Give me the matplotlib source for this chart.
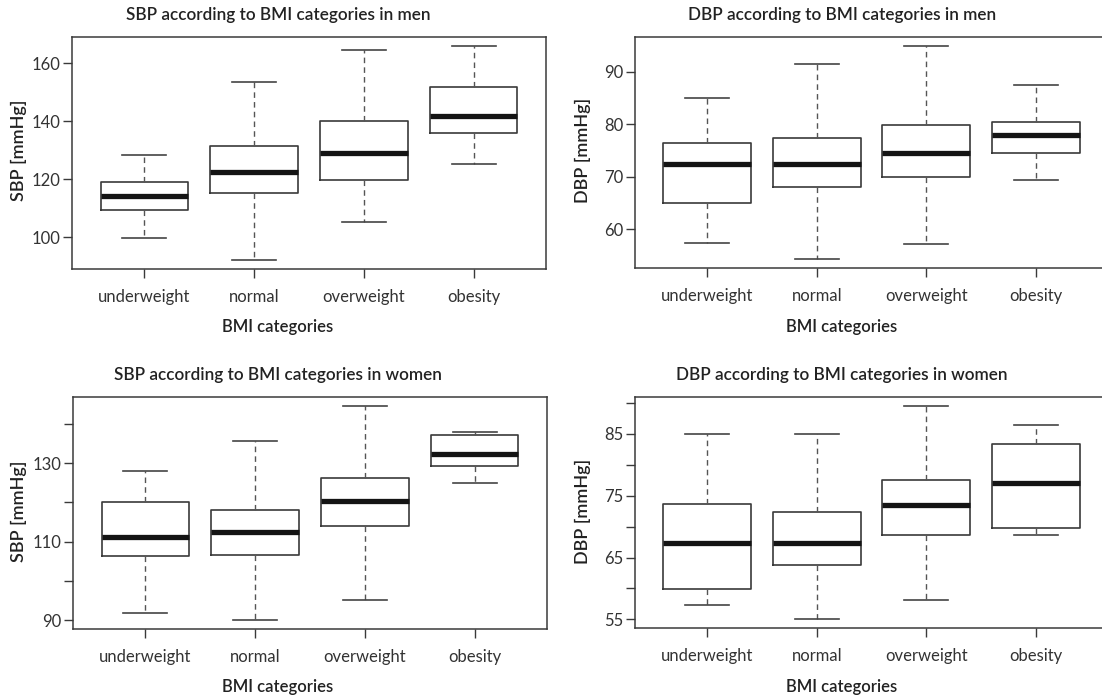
import matplotlib
matplotlib.use('Agg')
import matplotlib.pyplot as plt

plt.rcParams['font.family'] = ['Lato', 'DejaVu Sans']

categories = ['underweight', 'normal', 'overweight', 'obesity']

# SBP men
sbp_men_whislo = [99.8, 92.0, 105.1, 125.1]
sbp_men_q1 = [109.4, 115.3, 119.9, 135.9]
sbp_men_med = [114.3, 122.5, 129.1, 141.9]
sbp_men_q3 = [119.1, 131.3, 140.2, 151.8]
sbp_men_whishi = [128.5, 153.7, 164.5, 166.1]

# DBP men
dbp_men_whislo = [57.5, 54.3, 57.2, 69.5]
dbp_men_q1 = [65.05, 68.1, 70.0, 74.5]
dbp_men_med = [72.4, 72.5, 74.6, 78.0]
dbp_men_q3 = [76.4, 77.5, 79.9, 80.5]
dbp_men_whishi = [85.1, 91.4, 95.0, 87.5]

# SBP women
sbp_women_whislo = [92.0, 90.0, 95.1, 125.0]
sbp_women_q1 = [106.4, 106.7, 114.0, 129.2]
sbp_women_med = [111.2, 112.5, 120.3, 132.4]
sbp_women_q3 = [120.0, 118.1, 126.2, 137.0]
sbp_women_whishi = [128.1, 135.5, 144.6, 138.0]

# DBP women
dbp_women_whislo = [57.4, 55.0, 58.2, 68.7]
dbp_women_q1 = [59.9, 63.8, 68.7, 69.8]
dbp_women_med = [67.3, 67.4, 73.5, 77.1]
dbp_women_q3 = [73.7, 72.4, 77.6, 83.3]
dbp_women_whishi = [85.0, 85.0, 89.55, 86.4]

sbp_men_ticks = [100, 120, 140, 160]
sbp_men_ticklabels = ['100', '120', '140', '160']
dbp_men_ticks = [60, 70, 80, 90]
dbp_men_ticklabels = ['60', '70', '80', '90']
sbp_women_ticks = [90, 100, 110, 120, 130, 140]
sbp_women_ticklabels = ['90', '', '110', '', '130', '']
dbp_women_ticks = [55, 60, 65, 70, 75, 80, 85, 90]
dbp_women_ticklabels = ['55', '', '65', '', '75', '', '85', '']

titles = ['SBP according to BMI categories in men',
          'DBP according to BMI categories in men',
          'SBP according to BMI categories in women',
          'DBP according to BMI categories in women']
ylabels = ['SBP [mmHg]', 'DBP [mmHg]', 'SBP [mmHg]', 'DBP [mmHg]']
xlabel = 'BMI categories'

W, H = 1102, 700
fig = plt.figure(figsize=(W / 100, H / 100), dpi=100)

panels = [
    (sbp_men_whislo, sbp_men_q1, sbp_men_med, sbp_men_q3, sbp_men_whishi, sbp_men_ticks, sbp_men_ticklabels),
    (dbp_men_whislo, dbp_men_q1, dbp_men_med, dbp_men_q3, dbp_men_whishi, dbp_men_ticks, dbp_men_ticklabels),
    (sbp_women_whislo, sbp_women_q1, sbp_women_med, sbp_women_q3, sbp_women_whishi, sbp_women_ticks, sbp_women_ticklabels),
    (dbp_women_whislo, dbp_women_q1, dbp_women_med, dbp_women_q3, dbp_women_whishi, dbp_women_ticks, dbp_women_ticklabels),
]

# axes boxes in pixels: left, top, right, bottom
boxes = [(72, 37, 546, 269), (635, 37, 1108, 268), (73, 397, 547, 629), (635, 397, 1108, 628)]
title_pos = [(278, 15), (842, 15), (278, 375), (842, 375)]
xlabel_pos = [(278, 327), (842, 327), (278, 687), (842, 687)]
ylabel_pos = [(19, 150), (583, 150), (19, 511), (583, 511)]

txt_color = '#222222'
edge = '#3a3a3a'

for i, (lo, q1, med, q3, hi, ticks, ticklabels) in enumerate(panels):
    l, t, r, b = boxes[i]
    ax = fig.add_axes([l / W, 1 - b / H, (r - l) / W, (b - t) / H])
    stats = []
    for j in range(len(categories)):
        stats.append(dict(med=med[j], q1=q1[j], q3=q3[j], whislo=lo[j], whishi=hi[j],
                          fliers=[], label=categories[j]))
    ax.bxp(stats, positions=range(1, len(categories) + 1), widths=0.8,
           capwidths=0.4, showfliers=False,
           boxprops=dict(color=edge, linewidth=1.2),
           medianprops=dict(color='#141414', linewidth=3.8, solid_capstyle='butt'),
           whiskerprops=dict(color='#555555', linewidth=1.0, linestyle=(0, (4, 3))),
           capprops=dict(color='#444444', linewidth=1.2))
    ymin = min(lo)
    ymax = max(hi)
    rng = ymax - ymin
    ax.set_ylim(ymin - 0.04 * rng, ymax + 0.04 * rng)
    ax.set_xlim(0.34, len(categories) + 0.66)
    ax.set_yticks(ticks)
    ax.set_yticklabels(ticklabels)
    ax.set_xticks(range(1, len(categories) + 1))
    ax.set_xticklabels(categories)
    ax.tick_params(axis='both', length=6.5, width=1.0, color=edge, labelsize=12,
                   labelcolor='#333333')
    ax.tick_params(axis='y', pad=2)
    ax.tick_params(axis='x', pad=8)
    for s in ax.spines.values():
        s.set_color(edge)
        s.set_linewidth(1.1)

    fig.text(title_pos[i][0] / W, 1 - title_pos[i][1] / H, titles[i], ha='center', va='center',
             fontsize=12.3, fontweight='semibold', color=txt_color)
    fig.text(xlabel_pos[i][0] / W, 1 - xlabel_pos[i][1] / H, xlabel, ha='center', va='center',
             fontsize=12, fontweight='semibold', color=txt_color)
    fig.text(ylabel_pos[i][0] / W, 1 - ylabel_pos[i][1] / H, ylabels[i], ha='center', va='center',
             rotation=90, fontsize=13, fontweight='semibold', color=txt_color)

fig.savefig('out.png', dpi=100)
